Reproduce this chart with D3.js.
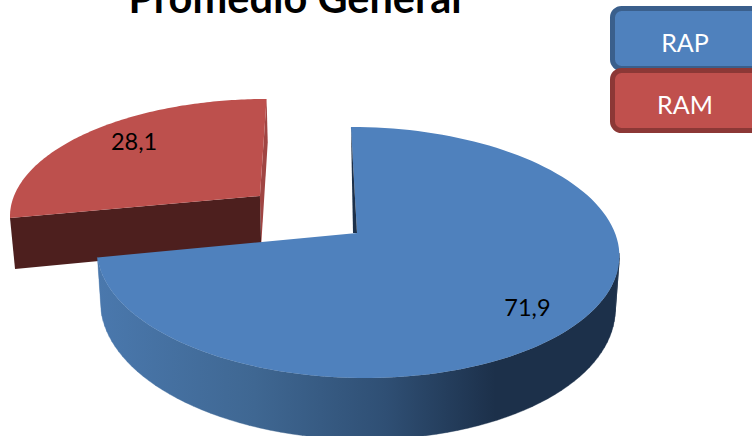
<!DOCTYPE html>
<html><head><meta charset="utf-8">
<script src="https://cdnjs.cloudflare.com/ajax/libs/d3/7.8.5/d3.min.js"></script>
<style>html,body{margin:0;padding:0;background:#fff}svg{display:block}text{font-family:Lato,sans-serif}</style>
</head><body><svg id="c" width="752" height="436"></svg>
<script>
const title = "Promedio General";
const categories = ["RAP", "RAM"];
const values = [71.9, 28.1];
const valueLabels = ["71,9", "28,1"];
const topColors = ["#4f81bd", "#bd504d"];
const legendColors = ["#4f81bd", "#c0504d"];
const strokeColors = ["#3a5f8c", "#8c3836"];

const svg = d3.select("#c");
const cx = 357, cy = 233, Rx = 258, Ry = 122.5, k = 0.155, skew = 7, depth = 52;
const explode = [0, 0.5];

// perspective projection of the pie plane (u right, v toward viewer)
function project(u, v, lower) {
  const w = 1 - k * v;
  let x = cx + (Rx * u + skew * v) / w;
  let y = cy + Ry * v / w;
  if (lower) { y += depth / w; x = 16 + 0.985 * (x - 11); }
  return [x, y];
}
const pie = d3.pie().sort(null).value(d => d).startAngle(0).endAngle(2 * Math.PI);
const arcs = pie(values).map((a, i) => {
  const mid = (a.startAngle + a.endAngle) / 2;
  const ox = explode[i] * Math.sin(mid), oy = -explode[i] * Math.cos(mid);
  const rim = (t, lower, r = 1) => project(ox + r * Math.sin(t), oy - r * Math.cos(t), lower);
  const ts = d3.range(0, 121).map(j => a.startAngle + (a.endAngle - a.startAngle) * j / 120);
  return {a, i, mid, rim, ts};
});
const line = d3.line();

const defs = svg.append("defs");
const grad = defs.append("linearGradient").attr("id", "wall").attr("gradientUnits", "userSpaceOnUse")
  .attr("x1", 98).attr("x2", 621).attr("y1", 0).attr("y2", 0);
[[0, "#4a78ad"], [0.3, "#3f6792"], [0.55, "#2f4f74"], [0.76, "#1c304a"], [1, "#1c304a"]]
  .forEach(s => grad.append("stop").attr("offset", s[0]).attr("stop-color", s[1]));

// title (cut by the top edge, as in the reference)
svg.append("text").attr("x", 295).attr("y", 13).attr("text-anchor", "middle")
  .attr("font-size", 41.5).attr("font-weight", 700).attr("fill", "#000").text(title);

// RAM exploded slice
const red = arcs[1];
const rs = red.a.startAngle, re = red.a.endAngle;
svg.append("path").attr("fill", "#a04543")
  .attr("d", line([red.rim(re, false), red.rim(re, true), red.rim(re, true, 0), red.rim(re, false, 0)]) + "Z");
svg.append("path").attr("fill", "#4d1f1e")
  .attr("d", line([red.rim(rs, false), red.rim(rs, true), red.rim(rs, true, 0), red.rim(rs, false, 0)]) + "Z");
svg.append("path").attr("fill", topColors[1])
  .attr("d", line([red.rim(rs, false, 0), ...red.ts.map(t => red.rim(t, false))]) + "Z");

// RAP slice: the wall is swept quad by quad, from the rim's rightmost point on
const blue = arcs[0];
const front = blue.ts.filter(t => -Math.cos(t) > k);
const wallPath = d3.pairs(front).map(([t0, t1]) =>
  line([blue.rim(t0, false), blue.rim(t1, false), blue.rim(t1, true), blue.rim(t0, true)]) + "Z").join("");
svg.append("path").attr("fill", "url(#wall)").attr("stroke", "url(#wall)").attr("stroke-width", 0.4).attr("d", wallPath);
svg.append("path").attr("fill", topColors[0])
  .attr("d", line([blue.rim(0, false, 0), ...blue.ts.map(t => blue.rim(t, false))]) + "Z");
// inner radial face seen at the start of the RAP slice
const p0 = blue.rim(blue.a.startAngle, false), p1 = blue.rim(0, false, 0);
svg.append("path").attr("fill", "#1c304a")
  .attr("d", line([p0, p1, [p1[0] - 4, p1[1]]]) + "Z");

// value labels
const labelR = [0.86, 0.72];
const labelNudge = [[-21, 2], [-1, -6]];
arcs.forEach(d => {
  const [x, y] = d.rim(d.mid, false, labelR[d.i]);
  svg.append("text").attr("x", x + labelNudge[d.i][0]).attr("y", y + labelNudge[d.i][1])
    .attr("text-anchor", "middle").attr("dy", "0.35em")
    .attr("font-size", 23.5).attr("fill", "#000").text(valueLabels[d.i]);
});

// legend
const band = d3.scaleBand().domain(categories).range([6, 130]).paddingInner(0);
categories.forEach((c, i) => {
  svg.append("rect").attr("x", 612.5).attr("y", band(c) + 2.5).attr("width", 170).attr("height", band.bandwidth() - 2)
    .attr("rx", 9).attr("fill", legendColors[i])
    .attr("stroke", strokeColors[i]).attr("stroke-width", 5);
  svg.append("text").attr("x", 685).attr("y", band(c) + band.bandwidth() / 2 + 14.5)
    .attr("text-anchor", "middle").attr("font-size", 25).attr("fill", "#fff").text(c);
});
</script></body></html>
